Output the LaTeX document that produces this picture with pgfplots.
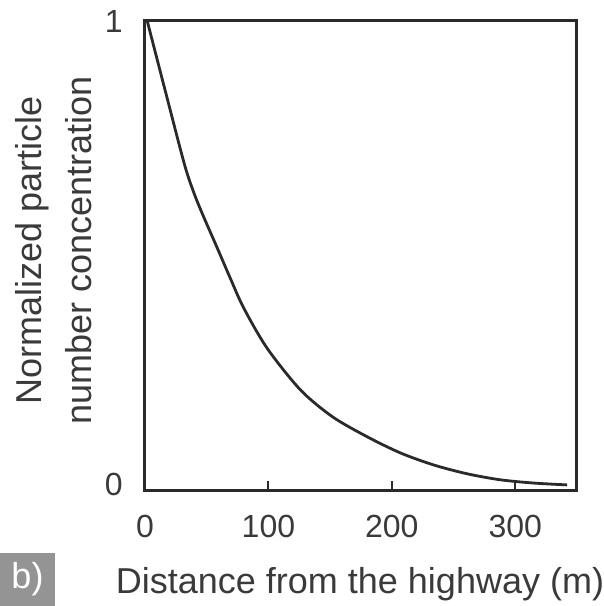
\documentclass[border=0pt]{standalone}
\usepackage{fontspec}
\setmainfont{Liberation Sans}
\usepackage{pgfplots}
\pgfplotsset{compat=1.18}
\definecolor{txt}{HTML}{3A3A3A}
\definecolor{ln}{HTML}{2A2A2A}
\begin{document}
\begin{tikzpicture}
\begin{axis}[
  scale only axis,
  width=432pt, height=470pt,
  xmin=0, xmax=350,
  ymin=-0.011, ymax=1.004,
  xtick={0,100,200,300},
  ytick={0,1},
  tick align=inside,
  xtick pos=bottom,
  major tick length=9pt,
  ytick style={draw=none},
  tick style={line width=2pt, ln},
  axis line style={line width=3pt, ln},
  /pgf/number format/assume math mode=true,
  ticklabel style={text=txt, font=\fontsize{32}{38}\selectfont, inner sep=0pt},
  xticklabel style={anchor=base, yshift=-47pt},
  yticklabel style={anchor=base east, xshift=-22pt, yshift=-11pt},
  xlabel={Distance from the highway (m)},
  ylabel={Normalized particle\\number concentration},
  xlabel style={at={(rel axis cs:0.5,0)}, anchor=base, yshift=-103pt, xshift=-1pt, inner sep=0pt, text=txt, font=\fontsize{36}{50}\selectfont},
  ylabel style={at={(rel axis cs:-0.3009,0.51)}, anchor=north, inner sep=0pt, align=center, text=txt, font=\fontsize{36}{50}\selectfont},
  clip=false,
]
\addplot[smooth, tension=0.5, line width=2.8pt, ln] coordinates {
(2,1.0) (17,0.845) (32,0.692) (40,0.628) (48,0.576) (58,0.515) (69,0.447)
(80,0.382) (99,0.295) (126,0.205) (152,0.147) (180,0.104) (207,0.069)
(234,0.043) (261,0.024) (288,0.011) (315,0.004) (342,0.0)
};
\end{axis}
\node[fill=black!42, text=white, inner sep=0pt, minimum width=55pt, minimum height=53pt, font=\fontsize{36}{40}\selectfont] at ([xshift=-117.5pt, yshift=-89.5pt]current axis.south west) {b)};
\pgfresetboundingbox
\path[use as bounding box] ([xshift=-145pt, yshift=-116pt]current axis.south west) rectangle ++(604pt,606pt);
\end{tikzpicture}
\end{document}
